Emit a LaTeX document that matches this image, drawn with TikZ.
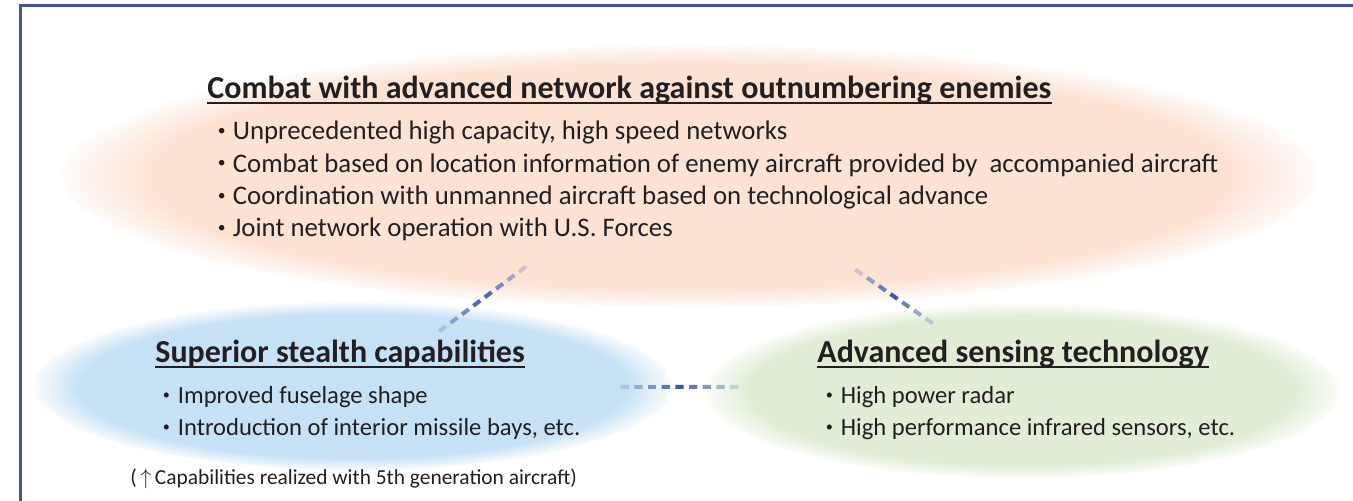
\documentclass[tikz,border=0pt]{standalone}
\usepackage{fontspec}
\setmainfont{Carlito}
\usetikzlibrary{shapes.geometric, calc}

\definecolor{framblue}{RGB}{62,84,160}
\definecolor{peach}{RGB}{252,227,212}
\definecolor{skyblue}{RGB}{199,226,245}
\definecolor{sage}{RGB}{225,238,213}
\definecolor{dashblue}{RGB}{58,88,176}
\definecolor{ink}{RGB}{35,31,32}

% soft edged fills for the three areas
\pgfdeclareradialshading{peachglow}{\pgfpoint{0bp}{0bp}}{color(0bp)=(peach); color(21.5bp)=(peach); color(25.5bp)=(white); color(50bp)=(white)}
\pgfdeclareradialshading{blueglow}{\pgfpoint{0bp}{0bp}}{color(0bp)=(skyblue); color(21.5bp)=(skyblue); color(25.5bp)=(white); color(50bp)=(white)}
\pgfdeclareradialshading{sageglow}{\pgfpoint{0bp}{0bp}}{color(0bp)=(sage); color(21.5bp)=(sage); color(25.5bp)=(white); color(50bp)=(white)}

\newcommand{\dotmark}{\makebox[7.5pt][l]{\raisebox{0.17em}{\scalebox{0.58}{\textbullet}}}}

% dashed link that fades out at both ends
\newcommand{\fadelink}[3]{%
  \foreach \i in {1,...,#3}{%
    \pgfmathsetmacro{\op}{0.12+0.88*(1-abs(2*(\i-0.5)/#3-1))}%
    \pgfmathsetmacro{\ta}{(\i-0.8)/#3}%
    \pgfmathsetmacro{\tb}{(\i-0.2)/#3}%
    \draw[link, draw opacity=\op] ($(#1)!\ta!(#2)$) -- ($(#1)!\tb!(#2)$);
  }}

\begin{document}
\begin{tikzpicture}[x=0.5pt, y=-0.5pt,
    glow/.style={ellipse, shade, inner sep=0pt, outer sep=0pt},
    head/.style={anchor=base west, inner sep=0pt, text=ink, font=\fontsize{16}{19}\selectfont\bfseries},
    item/.style={anchor=base west, inner sep=0pt, text=ink, font=\fontsize{13.4}{16}\selectfont},
    subitem/.style={item, font=\fontsize{12.3}{15}\selectfont},
    note/.style={anchor=base west, inner sep=0pt, text=ink, font=\fontsize{10.7}{13}\selectfont},
    uline/.style={ink, line width=1pt},
    link/.style={dashblue, line width=2pt}]
\useasboundingbox (0,0) rectangle (1353,501);

% frame
\draw[framblue, line width=1.5pt] (1370,6) -- (20,6) -- (20,520);

% areas
\node[glow, shading=peachglow, minimum width=628pt, minimum height=131pt] (combat) at (690,176) {};
\node[glow, shading=blueglow, minimum width=319pt, minimum height=84pt] (stealth) at (353,386) {};
\node[glow, shading=sageglow, minimum width=318pt, minimum height=87pt] (sensing) at (1022,391) {};

% links
\coordinate (s1) at (437,333);
\coordinate (c1) at (528,265);
\coordinate (c2) at (853,268);
\coordinate (s2) at (935,325);
\coordinate (m1) at (618,387);
\coordinate (m2) at (741,387);
\fadelink{s1}{c1}{8}
\fadelink{c2}{s2}{7}
\fadelink{m1}{m2}{9}

% top area
\node[head] (combattitle) at (207,99) {Combat with advanced network against outnumbering enemies};
\foreach \txt [count=\k] in {{Unprecedented high capacity, high speed networks},
    {Combat based on location information of enemy aircraft provided by\ \ accompanied aircraft},
    {Coordination with unmanned aircraft based on technological advance},
    {Joint network operation with U.S. Forces}}
  \node[item] (net\k) at (217.5,107.7+32.3*\k) {\dotmark\txt};

% left area
\node[head] (stealthtitle) at (155,363) {Superior stealth capabilities};
\node[subitem] (st1) at (162.5,404) {\dotmark Improved fuselage shape};
\node[subitem] (st2) at (162.5,436) {\dotmark Introduction of interior missile bays, etc.};

% right area
\node[head] (sensingtitle) at (817,363) {Advanced sensing technology};
\node[subitem] (se1) at (825.5,404) {\dotmark High power radar};
\node[subitem] (se2) at (825.5,436) {\dotmark High performance infrared sensors, etc.};

% underlines
\foreach \t in {combattitle, stealthtitle, sensingtitle}
  \draw[uline] ([yshift=-2pt]\t.base west) -- ([yshift=-2pt]\t.base east);

\node[note] (footnote) at (130,485) {(\,$\uparrow$\,Capabilities realized with 5th generation aircraft)};
\end{tikzpicture}
\end{document}
